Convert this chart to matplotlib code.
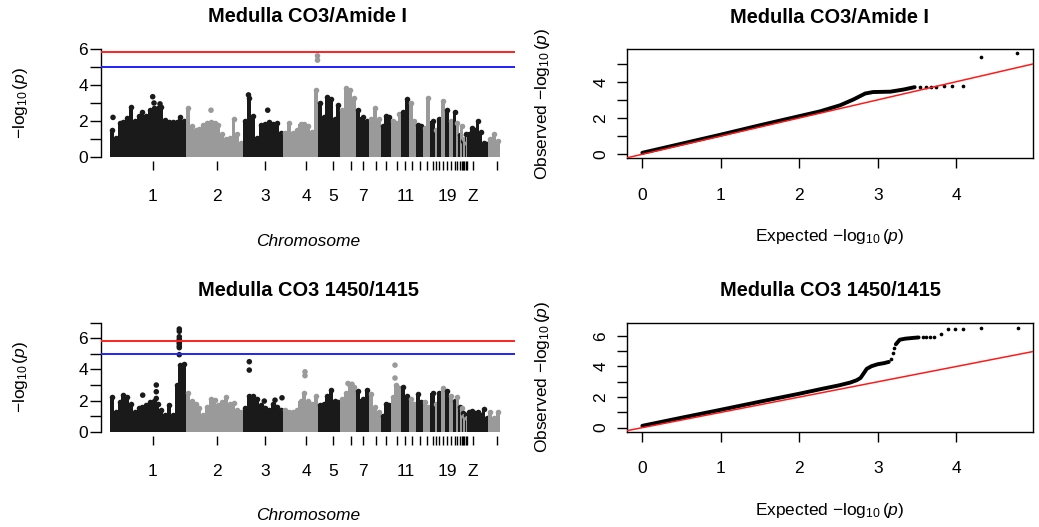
import numpy as np
import matplotlib
matplotlib.use("Agg")
import matplotlib.pyplot as plt

plt.rcParams['font.family'] = ['Liberation Sans', 'DejaVu Sans']
plt.rcParams['mathtext.fontset'] = 'custom'
plt.rcParams['mathtext.rm'] = 'Liberation Sans'
plt.rcParams['mathtext.it'] = 'Liberation Sans:italic'
plt.rcParams['mathtext.bf'] = 'Liberation Sans:bold'

# ---------------- data ----------------
chrom_names = ['1', '2', '3', '4', '5', '6', '7', '8', '9', '10', '11', '12', '13', '14', '15',
               '16', '17', '18', '19', '20', '21', '22', '23', '24', '25', '26', '27', '28', 'Z', 'W']
# cumulative genome coordinate (plot units) where each chromosome ends; first starts at 110
chrom_first_start = 110
chrom_end = [186, 243, 283, 318, 340, 356, 369, 381, 391, 401, 409, 416, 423, 430, 435,
             437, 441, 445, 449, 453, 456, 458.5, 460.5, 462.5, 463.5, 465, 466, 467, 488, 500]
chrom_tick = [152.7, 216.7, 265, 306, 333, 350.7, 362.7, 376, 386, 396.7, 405.3, 412, 420, 426.7, 432.7,
              436, 439, 443, 447, 451, 454.7, 457.3, 459.5, 461.5, 463, 464.2, 465.5, 466.5, 472.7, 496.7]
shown_labels = ['1', '2', '3', '4', '5', '7', '11', '19', 'Z']

# upper envelope of -log10(p) along each chromosome
env_top = {
    '1': [1.5, 1.05, 1.9, 1.95, 2.15, 2.8, 2.0, 2.3, 2.5, 2.25, 2.6, 2.7, 2.7, 2.8, 2.05, 1.95, 1.95, 1.95, 2.2, 2.0],
    '2': [2.7, 1.7, 1.5, 1.55, 1.8, 1.9, 1.95, 1.9, 1.75, 1.25, 1.0, 1.05, 2.1, 1.3, 0.8],
    '3': [2.0, 3.3, 2.3, 1.05, 1.8, 1.85, 1.95, 1.85, 1.9, 1.35],
    '4': [1.35, 1.9, 1.35, 1.5, 1.85, 1.85, 1.7, 1.4, 3.75],
    '5': [3.0, 2.2, 3.35, 3.2, 2.1, 2.9],
    '6': [2.6, 3.85, 3.7, 3.3],
    '7': [2.6, 2.2, 2.0],
    '8': [2.1, 2.7, 2.1],
    '9': [1.7, 2.3, 2.2],
    '10': [2.0, 1.9, 2.4],
    '11': [2.5, 3.2],
    '12': [3.0, 2.0],
    '13': [1.8, 1.7],
    '14': [1.6, 3.3],
    '15': [2.0],
    '16': [1.5],
    '17': [2.1],
    '18': [3.1],
    '19': [2.6],
    '20': [2.0],
    '21': [2.5],
    '22': [1.9],
    '23': [1.2],
    '24': [1.7],
    '25': [0.9],
    '26': [1.0],
    '27': [1.3],
    '28': [0.8],
    'Z': [1.3, 1.6, 1.5, 2.0, 1.4, 0.8, 0.7],
    'W': [1.0, 1.3, 0.9],
}
env_bottom = {
    '1': [2.2, 1.3, 1.9, 2.35, 2.2, 1.75, 1.3, 1.5, 1.6, 1.7, 1.9, 1.95, 1.8, 1.4, 1.1, 1.7, 1.1, 3.0, 4.3, 4.35],
    '2': [2.5, 2.0, 1.8, 1.5, 1.1, 1.6, 2.1, 2.05, 1.7, 1.9, 2.2, 1.75, 1.85, 1.4, 1.3],
    '3': [1.5, 2.3, 2.3, 2.1, 1.7, 1.5, 1.4, 1.8, 1.6, 1.4],
    '4': [1.4, 1.3, 1.25, 1.4, 2.0, 2.5, 2.0, 1.8, 2.3],
    '5': [1.7, 1.75, 2.3, 2.65, 2.0, 1.9],
    '6': [2.1, 2.5, 2.95, 2.9],
    '7': [2.6, 2.1, 2.65],
    '8': [2.4, 1.6, 1.3],
    '9': [1.0, 1.8, 1.7],
    '10': [2.2, 3.0, 2.8],
    '11': [2.85, 2.3],
    '12': [2.1, 1.8],
    '13': [2.4, 1.9],
    '14': [1.9, 1.6],
    '15': [2.5],
    '16': [1.8],
    '17': [2.5],
    '18': [2.8],
    '19': [2.6],
    '20': [2.3],
    '21': [2.0],
    '22': [2.2],
    '23': [1.6],
    '24': [1.5],
    '25': [1.2],
    '26': [1.0],
    '27': [1.1],
    '28': [0.9],
    'Z': [1.3, 1.35, 1.2, 1.3, 1.1, 1.45, 0.9],
    'W': [1.3, 0.9, 1.3],
}
# isolated SNPs standing out above the envelope: position, -log10(p)
top_out_pos = [113, 152.7, 154, 160, 211, 248.5, 267.7, 317.5, 317.5]
top_out_val = [2.2, 3.35, 3.0, 2.95, 2.6, 3.45, 2.6, 5.62, 5.38]
bot_out_pos = [179.3, 179.3, 179.3, 179.3, 179.3, 179.3, 179.3, 179.3, 179.3, 179.3,
               142.7, 156.3, 156.3, 156.3, 249.3, 249.3, 264.3, 275, 282, 305, 305, 348, 352, 395, 395]
bot_out_val = [6.6, 6.45, 6.1, 5.95, 5.85, 5.75, 5.65, 5.5, 5.4, 4.95,
               2.35, 3.0, 2.57, 2.14, 4.5, 3.96, 1.97, 2.03, 2.18, 3.85, 3.6, 3.1, 3.05, 4.28, 3.45]

genomewide_line = 5.85
suggestive_line = 5.0

# QQ plots: expected vs observed -log10(p)
qq_top_exp = [0.0, 0.5, 1.0, 1.5, 2.0, 2.26, 2.52, 2.69, 2.84, 2.94, 3.16, 3.33, 3.47]
qq_top_obs = [0.08, 0.58, 1.08, 1.6, 2.1, 2.36, 2.7, 3.02, 3.35, 3.43, 3.45, 3.57, 3.7]
qq_top_tail_exp = [3.54, 3.61, 3.68, 3.74, 3.84, 3.95, 4.08, 4.31, 4.78]
qq_top_tail_obs = [3.72, 3.7, 3.7, 3.7, 3.79, 3.77, 3.77, 5.34, 5.56]

qq_bot_exp = [0.0, 0.5, 1.0, 1.5, 2.0, 2.3, 2.5, 2.65, 2.73, 2.78, 2.82, 2.86, 2.92, 3.0, 3.08, 3.14]
qq_bot_obs = [0.12, 0.65, 1.17, 1.7, 2.22, 2.55, 2.76, 2.95, 3.1, 3.25, 3.55, 3.85, 4.02, 4.15, 4.22, 4.3]
qq_bot_step_exp = [3.23, 3.28, 3.35, 3.45, 3.52]
qq_bot_step_obs = [5.45, 5.75, 5.82, 5.87, 5.9]
qq_bot_tail_exp = [3.17, 3.19, 3.21, 3.57, 3.62, 3.67, 3.72, 3.8, 3.9, 3.98, 4.09, 4.31, 4.79]
qq_bot_tail_obs = [4.5, 4.9, 5.2, 5.9, 5.92, 5.92, 5.93, 6.15, 6.43, 6.43, 6.43, 6.52, 6.52]

titles = ['Medulla CO3/Amide I', 'Medulla CO3 1450/1415']

# ---------------- drawing ----------------
W, H = 1039, 527
fig = plt.figure(figsize=(W / 100, H / 100), dpi=100)
DARK = '#1a1a1a'
LIGHT = '#9a9a9a'
FS = 12.5


def axes_px(l, t, r, b):
    return fig.add_axes([l / W, 1 - b / H, (r - l) / W, (b - t) / H])


def ftext(x, y, s, **kw):
    fig.text(x / W, 1 - y / H, s, ha='center', va='center', **kw)


starts = [chrom_first_start] + chrom_end[:-1]


def chrom_color(i):
    return DARK if i % 2 == 0 else LIGHT


def manhattan(ax, env, out_pos, out_val, ymax):
    for i, name in enumerate(chrom_names):
        h = np.array(env[name])
        s, e = starts[i], chrom_end[i]
        w = (e - s) / len(h)
        xs = s + w * (np.arange(len(h)) + 0.5)
        c = chrom_color(i)
        ax.bar(xs, h, width=w * 1.03, color=c, linewidth=0, zorder=2)
        ax.scatter(xs, h, s=16, color=c, linewidths=0, zorder=2)
    idx = np.searchsorted(chrom_end, out_pos)
    cols = [chrom_color(i) for i in idx]
    ax.scatter(out_pos, out_val, s=16, c=cols, linewidths=0, zorder=3)
    ax.axhline(genomewide_line, color='#ff2020', lw=1.4, zorder=4)
    ax.axhline(suggestive_line, color='#2020ff', lw=1.4, zorder=4)
    pad = ymax * 0.04
    ax.set_ylim(-pad, ymax + pad)
    ax.set_xlim(101, 515)
    for sp in ['top', 'right', 'bottom']:
        ax.spines[sp].set_visible(False)
    ax.spines['left'].set_bounds(0, ymax)
    ax.spines['left'].set_linewidth(1.0)
    yt = np.arange(0, ymax + 1)
    ax.set_yticks(yt)
    ax.set_yticklabels([str(int(v)) if v % 2 == 0 else '' for v in yt])
    ax.set_xticks(chrom_tick)
    ax.set_xticklabels([n if n in shown_labels else '' for n in chrom_names])
    ax.tick_params(axis='y', length=8, width=1.0, pad=1.5, labelsize=FS)
    ax.tick_params(axis='x', length=6.3, width=1.0, pad=13.5, labelsize=FS)


def qqplot(ax, ce, co, extra, ymax):
    emax = 4.79
    ax.plot(ce, co, color='black', lw=2.8, solid_capstyle='round', solid_joinstyle='round', zorder=2)
    for (te, to) in extra:
        ax.scatter(te, to, s=7, color='black', linewidths=0, zorder=2)
    ax.plot([-1, 7], [-1, 7], color='#ff1a1a', lw=1.1, zorder=3)
    ax.set_xlim(-0.04 * emax, emax * 1.04)
    ax.set_ylim(-0.04 * ymax, ymax * 1.04)
    ax.set_xticks(range(0, 5))
    ax.set_xticklabels([str(v) for v in range(0, 5)])
    yt = np.arange(0, int(ymax) + 1)
    ax.set_yticks(yt)
    ax.set_yticklabels([str(int(v)) if v % 2 == 0 else '' for v in yt], rotation=90, va='center')
    for sp in ax.spines.values():
        sp.set_linewidth(1.0)
    ax.tick_params(axis='x', length=7.2, width=1.0, pad=14, labelsize=FS)
    ax.tick_params(axis='y', length=7.2, width=1.0, pad=6.5, labelsize=FS)


ylab = r'$-\log_{10}(\mathit{p})$'

# top-left Manhattan
ax1 = axes_px(101, 44.7, 515, 161.3)
manhattan(ax1, env_top, top_out_pos, top_out_val, 6)
ftext(308, 16.5, titles[0], fontsize=14.4, fontweight='bold')
ftext(308, 241.5, 'Chromosome', fontsize=FS, style='italic')
ftext(20, 103, ylab, fontsize=FS, rotation=90)

# bottom-left Manhattan
ax2 = axes_px(101, 318.4, 515, 436.1)
manhattan(ax2, env_bottom, bot_out_pos, bot_out_val, 7)
ftext(308, 290, titles[1], fontsize=14.4, fontweight='bold')
ftext(308, 515.5, 'Chromosome', fontsize=FS, style='italic')
ftext(20, 377, ylab, fontsize=FS, rotation=90)

# top-right QQ
ax3 = axes_px(627.3, 49, 1033.3, 158.3)
qqplot(ax3, qq_top_exp, qq_top_obs, [(qq_top_tail_exp, qq_top_tail_obs)], 5.58)
ftext(830, 17.5, titles[0], fontsize=14.4, fontweight='bold')
ftext(830, 237, r'Expected $-\log_{10}(\mathit{p})$', fontsize=FS)
ftext(543, 104, r'Observed $-\log_{10}(\mathit{p})$', fontsize=FS, rotation=90)

# bottom-right QQ
ax4 = axes_px(627.3, 322.7, 1033.3, 431.7)
qqplot(ax4, qq_bot_exp, qq_bot_obs,
       [(qq_bot_tail_exp, qq_bot_tail_obs)], 6.6)
ax4.plot(qq_bot_step_exp, qq_bot_step_obs, color='black', lw=2.8, solid_capstyle='round', zorder=2)
ftext(830, 290, titles[1], fontsize=14.4, fontweight='bold')
ftext(830, 511, r'Expected $-\log_{10}(\mathit{p})$', fontsize=FS)
ftext(543, 377, r'Observed $-\log_{10}(\mathit{p})$', fontsize=FS, rotation=90)

fig.savefig('out.png', dpi=100)
